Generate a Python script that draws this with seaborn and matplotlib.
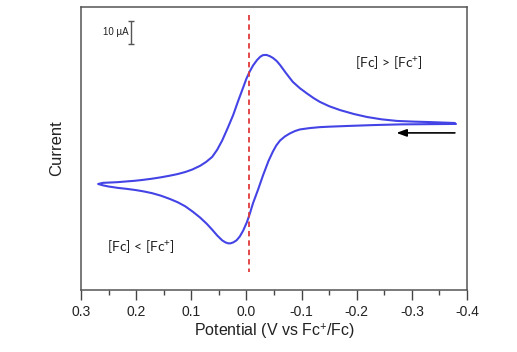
import matplotlib
matplotlib.use("Agg")
import matplotlib.pyplot as plt
import seaborn as sns
import pandas as pd

# Forward scan (from -0.38 V toward positive potentials), lower branch
fwd_potential = [-0.380, -0.330, -0.279, -0.230, -0.182, -0.150, -0.133, -0.115, -0.097,
                 -0.088, -0.079, -0.070, -0.061, -0.054, -0.048, -0.040, -0.030, -0.021,
                 -0.012, -0.006, -0.001, 0.006, 0.012, 0.018, 0.024, 0.029, 0.033,
                 0.038, 0.044, 0.053, 0.062, 0.072, 0.084, 0.097, 0.111, 0.125,
                 0.139, 0.155, 0.171, 0.187, 0.202, 0.218, 0.233, 0.250, 0.260, 0.269]
fwd_current = [-0.4, -0.5, -0.6, -0.9, -1.3, -1.6, -1.8, -2.2, -2.8,
               -3.5, -4.5, -5.8, -7.6, -9.8, -12.4, -16.5, -22.8, -29.0,
               -34.8, -39.5, -43.0, -46.8, -49.3, -51.0, -51.9, -52.3, -52.3,
               -51.9, -51.0, -48.9, -46.4, -43.8, -41.1, -38.6, -36.2, -34.4,
               -33.0, -31.6, -30.5, -29.7, -29.1, -28.6, -28.2, -27.6, -27.1, -26.5]
# Reverse scan, upper branch
rev_potential = [0.269, 0.260, 0.250, 0.233, 0.218, 0.202, 0.187, 0.171, 0.155,
                 0.139, 0.125, 0.111, 0.098, 0.084, 0.073, 0.062, 0.053, 0.044,
                 0.034, 0.024, 0.015, 0.006, 0.000, -0.006, -0.012, -0.019, -0.025,
                 -0.030, -0.036, -0.042, -0.048, -0.055, -0.061, -0.072, -0.084, -0.097,
                 -0.110, -0.122, -0.133, -0.150, -0.170, -0.195, -0.219, -0.245, -0.273,
                 -0.303, -0.333, -0.378]
rev_current = [-26.5, -26.0, -25.9, -25.7, -25.4, -25.1, -24.7, -24.2, -23.6,
               -22.9, -22.2, -21.3, -20.2, -18.6, -16.9, -14.7, -11.6, -7.6,
               -2.2, 3.5, 9.6, 15.4, 19.3, 22.4, 25.0, 27.3, 28.8,
               29.5, 29.6, 29.1, 28.3, 26.9, 25.2, 21.6, 17.9, 15.1,
               12.8, 10.8, 9.2, 7.3, 5.6, 3.9, 2.6, 1.6, 0.9,
               0.6, 0.4, 0.0]

xticks = [0.3, 0.2, 0.1, 0.0, -0.1, -0.2, -0.3, -0.4]
xticklabels = ["0.3", "0.2", "0.1", "0.0", "-0.1", "-0.2", "-0.3", "-0.4"]
minor_xticks = [0.25, 0.15, 0.05, -0.05, -0.15, -0.25, -0.35]
e_half = -0.004
scale_bar_uA = 10

df = pd.DataFrame({
    "potential": fwd_potential + rev_potential,
    "current": fwd_current + rev_current,
})

sns.set_style("white")
plt.rcParams["font.family"] = ["Liberation Sans", "DejaVu Sans"]
plt.rcParams["mathtext.fontset"] = "custom"
plt.rcParams["mathtext.rm"] = "Lato"
plt.rcParams["mathtext.it"] = "Lato:italic"
plt.rcParams["mathtext.bf"] = "Lato:bold"

fig = plt.figure(figsize=(5.17, 3.52), dpi=100)
ax = fig.add_axes([0.1567, 0.176, 0.7466, 0.804])

sns.lineplot(data=df, x="potential", y="current", sort=False, estimator=None,
             color="#4444e6", linewidth=1.5, ax=ax)
ax.lines[0].set_solid_joinstyle("round")

ax.set_xlim(0.3, -0.4)
ax.set_ylim(-72.6, 50.4)

# E1/2 dashed line
ax.plot([e_half, e_half], [47.0, -64.8], color="#e03a3a", linestyle=(0, (3, 2.2)),
        linewidth=1.3)

# scale bar
ax.errorbar([0.209], [39.3], yerr=[scale_bar_uA / 2], color="#555555", capsize=2.2,
            elinewidth=1.0, capthick=1.0)
ax.text(0.214, 39.6, "10 µA", ha="right", va="center", fontsize=7,
        family=["Liberation Sans", "DejaVu Sans"], color="#222222")

# direction arrow
ax.annotate("", xy=(-0.272, -4.3), xytext=(-0.378, -4.3),
            arrowprops=dict(arrowstyle="-|>,head_length=0.6,head_width=0.22",
                            color="black", lw=1.2, shrinkA=0, shrinkB=0))

ax.text(-0.259, 26.1, "[Fc] > [Fc$^{+}$]", ha="center", va="center", fontsize=10,
        family="Lato", color="#222222")
ax.text(0.191, -53.9, "[Fc] < [Fc$^{+}$]", ha="center", va="center", fontsize=10,
        family="Lato", color="#222222")

ax.set_xticks(xticks)
ax.set_xticklabels(xticklabels)
ax.set_xticks(minor_xticks, minor=True)
ax.set_yticks([])
ax.tick_params(axis="x", which="major", bottom=True, direction="out", length=7, width=1.0,
               color="#444444", labelcolor="#222222", labelsize=10, pad=4)
ax.tick_params(axis="x", which="minor", bottom=True, direction="out", length=3.5, width=1.0,
               color="#444444")
for sp in ax.spines.values():
    sp.set_color("#555555")
    sp.set_linewidth(1.1)

ax.set_xlabel("Potential (V vs Fc$^{+}$/Fc)", fontsize=11.5, color="#222222", labelpad=2)
ax.set_ylabel("Current", fontsize=12, color="#222222", labelpad=12)

fig.savefig("out.png", dpi=100)
